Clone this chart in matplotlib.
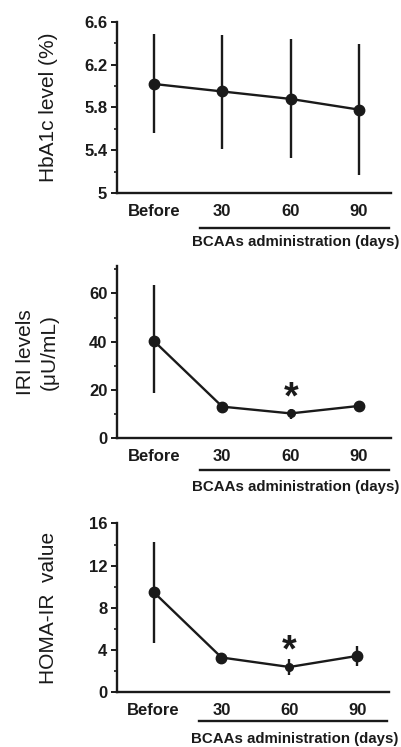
import matplotlib
matplotlib.use("Agg")
import matplotlib.pyplot as plt
from matplotlib.lines import Line2D
from matplotlib.ticker import MultipleLocator

plt.rcParams['font.family'] = ['Liberation Sans', 'DejaVu Sans']

categories = ["Before", "30", "60", "90"]

hba1c_mean = [6.02, 5.95, 5.88, 5.78]
hba1c_upper = [6.49, 6.48, 6.44, 6.39]
hba1c_lower = [5.56, 5.41, 5.33, 5.17]

iri_mean = [40.3, 13.1, 10.3, 13.4]
iri_upper = [63.5, 13.8, 12.2, 14.2]
iri_lower = [18.9, 12.4, 7.9, 12.6]

homa_mean = [9.5, 3.3, 2.4, 3.45]
homa_upper = [14.2, 3.6, 3.2, 4.4]
homa_lower = [4.7, 3.0, 1.6, 2.5]

sig_flags = [False, False, True, False]

panels = [
    dict(mean=hba1c_mean, up=hba1c_upper, lo=hba1c_lower, ylim=(5, 6.6),
         minor=0.2, ticks=[5, 5.4, 5.8, 6.2, 6.6],
         ticklabels=["5", "5.4", "5.8", "6.2", "6.6"],
         ylabel="HbA1c level (%)", label_x=-0.248,
         rect=[0.291, 0.7416, 0.682, 0.229],
         line_y=-0.205, text_y=-0.285, star_y=None, small=[]),
    dict(mean=iri_mean, up=iri_upper, lo=iri_lower, ylim=(0, 71.5),
         minor=10, ticks=[0, 20, 40, 60],
         ticklabels=["0", "20", "40", "60"],
         ylabel="IRI levels\n(\u03bcU/mL)", label_x=-0.29,
         rect=[0.291, 0.4133, 0.682, 0.231],
         line_y=-0.184, text_y=-0.284, star_y=16.3, small=[2]),
    dict(mean=homa_mean, up=homa_upper, lo=homa_lower, ylim=(0, 16),
         minor=2, ticks=[0, 4, 8, 12, 16],
         ticklabels=["0", "4", "8", "12", "16"],
         ylabel="HOMA-IR  value", label_x=-0.252,
         rect=[0.291, 0.0732, 0.677, 0.226],
         line_y=-0.168, text_y=-0.278, star_y=3.85, small=[2]),
]

fig = plt.figure(figsize=(4.02, 7.47), dpi=100)
col = "#1a1a1a"
x = list(range(len(categories)))

for p in panels:
    ax = fig.add_axes(p["rect"])
    lower_err = [m - l for m, l in zip(p["mean"], p["lo"])]
    upper_err = [u - m for m, u in zip(p["mean"], p["up"])]
    ax.errorbar(x, p["mean"], yerr=[lower_err, upper_err], fmt='none',
                ecolor=col, elinewidth=1.7, capsize=0, zorder=2)
    ax.plot(x, p["mean"], color=col, lw=1.7, zorder=3)
    big = [i for i in x if i not in p["small"]]
    ax.plot([x[i] for i in big], [p["mean"][i] for i in big], 'o', color=col,
            ms=7.5, zorder=4)
    if p["small"]:
        ax.plot([x[i] for i in p["small"]], [p["mean"][i] for i in p["small"]],
                'o', color=col, ms=5.5, zorder=4)
    if p["star_y"] is not None:
        for i, f in enumerate(sig_flags):
            if f:
                ax.text(x[i], p["star_y"], "*", ha='center', va='center',
                        fontsize=27, fontweight='bold', color=col)
    ax.set_xlim(-0.54, 3.47)
    ax.set_ylim(*p["ylim"])
    ax.set_yticks(p["ticks"])
    ax.set_yticklabels(p["ticklabels"])
    ax.yaxis.set_minor_locator(MultipleLocator(p["minor"]))
    ax.set_xticks(x)
    ax.set_xticklabels(categories)
    for s in ["top", "right"]:
        ax.spines[s].set_visible(False)
    for s in ["left", "bottom"]:
        ax.spines[s].set_linewidth(1.7)
        ax.spines[s].set_color(col)
    ax.tick_params(axis='y', which='major', length=4, width=1.4, pad=3,
                   labelsize=12, colors=col)
    ax.tick_params(axis='y', which='minor', length=2.5, width=1.2, colors=col)
    ax.tick_params(axis='x', length=0, pad=8, labelsize=12, colors=col)
    for lab in ax.get_xticklabels() + ax.get_yticklabels():
        lab.set_fontweight('bold')
    ax.set_ylabel(p["ylabel"], fontsize=15, va='center', linespacing=1.35,
                  color=col)
    ax.yaxis.set_label_coords(p["label_x"], 0.5)
    ax.add_line(Line2D([0.303, 0.993], [p["line_y"], p["line_y"]],
                       transform=ax.transAxes, color=col, lw=1.7,
                       clip_on=False))
    ax.text(0.653, p["text_y"], "BCAAs administration (days)",
            transform=ax.transAxes, ha='center', va='center', fontsize=10.8,
            fontweight='bold', color=col)

fig.savefig("out.png", dpi=100)
